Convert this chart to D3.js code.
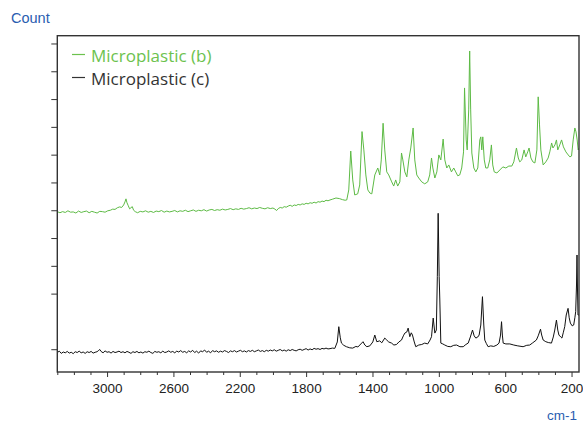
<!DOCTYPE html>
<html><head><meta charset="utf-8">
<script src="https://cdn.jsdelivr.net/npm/d3@7"></script>
<style>body{margin:0;background:#fff}svg{display:block}</style>
</head><body>
<script>
// ---- data ----
const xTicksMajor = [3000, 2600, 2200, 1800, 1400, 1000, 600, 200];
const xTicksMinor = [3300,3200,3100,2900,2800,2700,2500,2400,2300,2100,2000,1900,1700,1600,1500,1300,1200,1100,900,800,700,500,400,300];
const yTicks = [0, 2, 3, 4, 5, 6, 7, 8, 9, 10, 11];
const seriesNames = ["Microplastic (b)", "Microplastic (c)"];

const greenWn = [3300,3284,3268,3252,3236,3220,3204,3188,3172,3156,3140,3124,3108,3092,3076,3060,3044,3028,3012,2996,
2980,2966,2952,2938,2924,2912,2900,2892,2886,2880,2872,2864,2856,2848,2840,2830,2816,2800,2784,2768,
2752,2736,2720,2704,2688,2672,2656,2640,2624,2608,2592,2576,2560,2544,2528,2512,2496,2480,2464,2448,
2432,2416,2400,2384,2368,2352,2336,2320,2304,2288,2272,2256,2240,2224,2208,2192,2176,2160,2144,2128,
2112,2096,2080,2064,2048,2032,2016,2000,1988,1978,1968,1956,1944,1932,1920,1908,1896,1884,1872,1860,
1848,1836,1824,1812,1800,1788,1776,1764,1752,1740,1728,1716,1704,1692,1680,1668,1656,1640,1620,1600,
1580,1565,1555,1543,1531,1519,1507,1489,1477,1463,1452,1440,1428,1416,1404,1386,1368,1356,1347,1336,
1326,1314,1302,1284,1272,1260,1248,1235,1225,1217,1205,1193,1181,1169,1155,1145,1133,1121,1103,1085,
1067,1055,1044,1036,1024,1012,1000,988,974,964,952,940,924,910,898,886,874,862,851,845,
835,829,820,814,808,801,789,777,765,753,747,741,735,726,717,705,693,683,675,666,
650,632,614,596,578,560,548,532,521,512,500,486,476,464,456,445,433,421,409,401,
393,385,371,355,341,331,320,312,300,291,283,271,260,249,234,220,210,200,190,180,
173,166,160,154];
const greenVal = [4.95,4.91,4.95,4.92,4.98,4.93,4.94,4.90,4.97,4.92,4.95,4.97,4.91,4.96,4.93,4.90,4.96,4.95,4.93,4.98,
5.00,5.04,5.03,5.09,5.12,5.10,5.19,5.30,5.41,5.27,5.16,5.05,5.09,5.13,5.00,4.95,4.91,4.96,4.94,4.98,
4.93,4.96,4.92,4.97,4.95,4.99,4.93,4.97,4.94,4.96,4.99,4.94,4.98,4.96,5.00,4.95,4.98,5.01,4.96,5.00,
4.98,5.02,4.97,5.01,5.03,4.99,5.02,5.00,5.04,5.01,5.03,5.06,5.02,5.05,5.03,5.07,5.04,5.06,5.09,5.05,
5.08,5.06,5.10,5.07,5.05,5.09,5.06,5.08,5.04,4.99,5.06,5.10,5.08,5.13,5.11,5.15,5.18,5.14,5.19,5.17,
5.21,5.19,5.23,5.21,5.25,5.23,5.27,5.25,5.29,5.26,5.31,5.29,5.33,5.31,5.36,5.34,5.37,5.40,5.44,5.42,
5.38,5.36,5.37,5.73,7.13,6.09,5.55,5.59,5.91,7.83,7.17,6.27,5.73,5.62,5.59,6.27,6.52,6.27,6.81,8.13,
7.17,6.38,6.27,6.02,5.87,6.09,5.87,6.02,7.06,6.81,6.38,6.20,6.81,7.24,7.96,6.81,6.27,6.16,6.02,5.95,
6.02,6.27,6.88,6.52,6.16,6.38,6.99,6.81,7.56,6.81,6.52,6.63,6.38,6.52,6.38,6.24,6.27,6.52,7.10,9.40,
7.53,7.17,8.61,10.73,8.61,7.06,6.52,6.38,6.52,7.53,7.64,7.17,7.64,6.81,6.52,6.52,6.81,7.35,6.63,6.38,
6.34,6.45,6.56,6.52,6.59,6.59,6.74,7.24,6.88,6.74,6.81,7.17,6.92,7.10,7.24,6.88,6.74,6.70,7.17,9.08,
8.07,7.17,6.63,6.74,6.88,7.10,7.42,7.24,7.35,7.53,7.17,7.35,7.53,7.28,7.10,6.99,6.92,6.95,7.53,7.96,
7.82,7.53,7.17,7.24];

const blackWn = [3300,3288,3276,3264,3252,3240,3228,3216,3204,3192,3180,3168,3156,3144,3132,3120,3108,3096,3084,3072,
3060,3050,3044,3036,3024,3012,3000,2988,2976,2964,2952,2940,2928,2916,2904,2892,2880,2868,2856,2844,
2832,2820,2808,2796,2784,2772,2760,2748,2736,2724,2712,2700,2688,2676,2664,2652,2640,2628,2616,2604,
2592,2580,2568,2556,2544,2532,2520,2508,2496,2484,2472,2460,2448,2436,2424,2412,2400,2388,2376,2364,
2352,2340,2328,2316,2304,2292,2280,2268,2256,2244,2232,2220,2208,2196,2184,2172,2160,2148,2136,2124,
2112,2100,2088,2076,2064,2052,2040,2028,2016,2004,1992,1980,1968,1956,1944,1932,1920,1908,1896,1884,
1872,1860,1848,1836,1824,1812,1800,1788,1776,1764,1752,1740,1728,1716,1704,1692,1680,1668,1656,1642,
1627,1612,1603,1594,1587,1573,1557,1537,1519,1500,1488,1470,1457,1446,1434,1416,1398,1386,1374,1356,
1344,1326,1314,1302,1285,1271,1255,1241,1225,1214,1205,1193,1185,1175,1166,1159,1148,1139,1121,1103,
1085,1067,1053,1044,1034,1024,1015,1009,1004,998,994,988,976,964,946,928,910,893,873,853,
837,823,810,797,787,777,765,757,747,737,729,723,714,703,687,669,650,637,628,622,
617,612,596,572,548,524,492,470,452,434,412,401,387,380,371,355,340,321,310,301,
291,283,276,265,258,250,241,232,221,214,207,196,187,180,175,170,167,164,161,155];
const blackVal = [-0.12,-0.07,-0.15,-0.10,-0.13,-0.08,-0.14,-0.11,-0.16,-0.09,-0.12,-0.07,-0.13,-0.10,-0.15,-0.09,-0.12,-0.08,-0.14,-0.11,
-0.09,-0.04,-0.01,-0.08,-0.13,-0.06,-0.11,-0.09,-0.14,-0.08,-0.12,-0.10,-0.07,-0.12,-0.09,-0.13,-0.08,-0.11,-0.15,-0.09,
-0.12,-0.08,-0.13,-0.10,-0.14,-0.09,-0.11,-0.07,-0.12,-0.15,-0.08,-0.11,-0.09,-0.13,-0.07,-0.12,-0.10,-0.06,-0.11,-0.08,
-0.13,-0.07,-0.10,-0.05,-0.11,-0.08,-0.13,-0.06,-0.10,-0.04,-0.12,-0.07,-0.14,-0.06,-0.09,-0.03,-0.11,-0.07,-0.13,-0.05,
-0.09,-0.06,-0.11,-0.07,-0.10,-0.05,-0.08,-0.12,-0.06,-0.09,-0.05,-0.10,-0.07,-0.04,-0.09,-0.06,-0.10,-0.05,-0.08,-0.04,
-0.09,-0.06,-0.03,-0.08,-0.05,-0.09,-0.04,-0.07,-0.03,-0.06,-0.02,-0.07,-0.04,-0.01,-0.06,-0.03,-0.07,-0.02,-0.05,-0.01,
-0.04,-0.06,-0.02,0.00,-0.04,-0.01,0.02,-0.03,0.01,-0.02,0.03,0.00,0.02,-0.01,0.03,0.01,0.04,0.01,0.02,0.04,
0.03,0.26,0.81,0.41,0.22,0.14,0.09,0.05,0.04,0.10,0.08,0.19,0.27,0.15,0.09,0.12,0.26,0.51,0.27,0.30,
0.23,0.40,0.33,0.26,0.22,0.15,0.17,0.26,0.33,0.48,0.58,0.62,0.76,0.45,0.59,0.51,0.26,0.09,0.15,0.17,
0.22,0.19,0.33,0.45,1.12,0.58,0.69,2.61,4.89,2.61,1.77,0.22,0.19,0.15,0.10,0.09,0.14,0.15,0.09,0.09,
0.17,0.22,0.44,0.69,0.48,0.40,0.44,0.51,0.87,1.89,0.87,0.33,0.21,0.09,0.12,0.10,0.15,0.22,0.51,0.99,
0.51,0.22,0.19,0.19,0.15,0.12,0.09,0.14,0.15,0.23,0.33,0.48,0.72,0.51,0.33,0.27,0.24,0.22,0.44,0.69,
1.05,0.69,0.51,0.44,0.40,0.59,0.81,1.23,1.47,1.13,0.94,0.84,0.87,1.13,1.35,2.31,3.39,2.13,1.23,1.23];

// ---- layout ----
const W = 583, H = 422;
const plot = {left: 57.3, right: 579, top: 35.7, bottom: 372};
const xDomain = [3300, 155];
const yDomain = [-0.82, 11.28];

const svg = d3.select("body").append("svg").attr("width", W).attr("height", H);
const x = d3.scaleLinear().domain(xDomain).range([plot.left, plot.right]);
const y = d3.scaleLinear().domain(yDomain).range([plot.bottom, plot.top]);

svg.append("defs").append("clipPath").attr("id","clip")
  .append("rect").attr("x", plot.left).attr("y", plot.top)
  .attr("width", plot.right - plot.left).attr("height", plot.bottom - plot.top);

// series
const colors = ["#5dba45", "#111"];
const line = d3.line().x(d => x(d[0])).y(d => y(d[1]));
const gS = svg.append("g").attr("clip-path","url(#clip)");
gS.append("path").datum(greenWn.map((w,i)=>[w, greenVal[i]]))
  .attr("d", line).attr("fill","none").attr("stroke", colors[0]).attr("stroke-width", 1).attr("stroke-linejoin","round");
gS.append("path").datum(blackWn.map((w,i)=>[w, blackVal[i]]))
  .attr("d", line).attr("fill","none").attr("stroke", colors[1]).attr("stroke-width", 1).attr("stroke-linejoin","round");

// axes
const axisColor = "#333";
const xAxisMajor = d3.axisBottom(x).tickValues(xTicksMajor).tickSize(5).tickSizeOuter(0).tickPadding(6).tickFormat(d3.format("d"));
const gx = svg.append("g").attr("transform", `translate(0,${plot.bottom})`).call(xAxisMajor);
gx.select(".domain").remove();
gx.selectAll(".tick line").attr("stroke", axisColor);
gx.selectAll(".tick text").attr("font-family","'Liberation Sans', Arial, sans-serif").attr("font-size", 13.5).attr("fill","#222");
const gxm = svg.append("g").attr("transform", `translate(0,${plot.bottom})`)
  .call(d3.axisBottom(x).tickValues(xTicksMinor).tickSize(3).tickSizeOuter(0).tickFormat(""));
gxm.select(".domain").remove();
gxm.selectAll(".tick line").attr("stroke", axisColor);

const gy = svg.append("g").attr("transform", `translate(${plot.left},0)`)
  .call(d3.axisLeft(y).tickValues(yTicks).tickSize(6).tickFormat(""));
gy.select(".domain").remove();
gy.selectAll(".tick line").attr("stroke", axisColor);

// frame
svg.append("rect").attr("x", plot.left).attr("y", plot.top)
  .attr("width", plot.right - plot.left).attr("height", plot.bottom - plot.top)
  .attr("fill","none").attr("stroke", axisColor).attr("stroke-width", 1.4);

// axis titles
svg.append("text").attr("x", 11).attr("y", 23).text("Count")
  .attr("font-family","'Liberation Sans', Arial, sans-serif").attr("font-size", 14.5).attr("fill","#2a5db0");
svg.append("text").attr("x", 577).attr("y", 420).attr("text-anchor","end").text("cm-1")
  .attr("font-family","'Liberation Sans', Arial, sans-serif").attr("font-size", 13.5).attr("fill","#2a5db0");

// legend
const legColors = ["#6cc24e", "#333"];
const legY = [54.5, 77.5];
seriesNames.forEach((n, i) => {
  svg.append("line").attr("x1", 72).attr("x2", 85).attr("y1", legY[i]).attr("y2", legY[i])
    .attr("stroke", legColors[i]).attr("stroke-width", 1.2);
  svg.append("text").attr("x", 91).attr("y", legY[i] + 7).text(n)
    .attr("font-family","'Open Sans', 'Noto Sans', sans-serif").attr("font-size", 17).attr("fill", legColors[i]);
});
</script>
</body></html>
